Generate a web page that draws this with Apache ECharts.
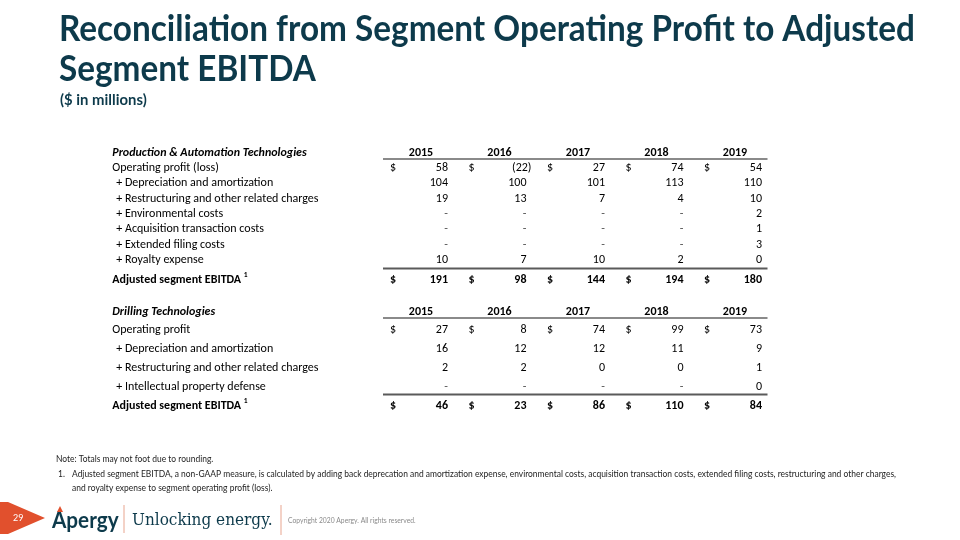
<!DOCTYPE html>
<html>
<head>
<meta charset="utf-8">
<script src="https://cdn.jsdelivr.net/npm/echarts@6/dist/echarts.min.js"></script>
<style>
  html, body { margin: 0; padding: 0; background: #ffffff; }
  #chart { width: 960px; height: 540px; }
</style>
</head>
<body>
<div id="chart"></div>
<script>
// ---------------- Data ----------------
const years = ['2015', '2016', '2017', '2018', '2019'];

const patSection = 'Production & Automation Technologies';
const patLabels = [
  'Operating profit (loss)',
  '+ Depreciation and amortization',
  '+ Restructuring and other related charges',
  '+ Environmental costs',
  '+ Acquisition transaction costs',
  '+ Extended filing costs',
  '+ Royalty expense'
];
const patOperatingProfit = [58, -22, 27, 74, 54];
const patDepreciation   = [104, 100, 101, 113, 110];
const patRestructuring  = [19, 13, 7, 4, 10];
const patEnvironmental  = [null, null, null, null, 2];
const patAcquisition    = [null, null, null, null, 1];
const patExtendedFiling = [null, null, null, null, 3];
const patRoyalty        = [10, 7, 10, 2, 0];
const patAdjustedEbitda = [191, 98, 144, 194, 180];

const dtSection = 'Drilling Technologies';
const dtLabels = [
  'Operating profit',
  '+ Depreciation and amortization',
  '+ Restructuring and other related charges',
  '+ Intellectual property defense'
];
const dtOperatingProfit = [27, 8, 74, 99, 73];
const dtDepreciation    = [16, 12, 12, 11, 9];
const dtRestructuring   = [2, 2, 0, 0, 1];
const dtIpDefense       = [null, null, null, null, 0];
const dtAdjustedEbitda  = [46, 23, 86, 110, 84];

const totalLabel = 'Adjusted segment EBITDA';
const footnoteMark = '1';

// ---------------- Build table rows ----------------
function buildTable(section, labels, valueRows, totalValues) {
  const rows = [{ kind: 'section', label: section, values: years }];
  labels.forEach((l, i) => rows.push({ kind: i === 0 ? 'first' : 'item', label: l, values: valueRows[i] }));
  rows.push({ kind: 'total', label: totalLabel, values: totalValues });
  return rows;
}
const patTable = buildTable(patSection, patLabels,
  [patOperatingProfit, patDepreciation, patRestructuring, patEnvironmental, patAcquisition, patExtendedFiling, patRoyalty],
  patAdjustedEbitda);
const dtTable = buildTable(dtSection, dtLabels,
  [dtOperatingProfit, dtDepreciation, dtRestructuring, dtIpDefense],
  dtAdjustedEbitda);

// ---------------- Styling ----------------
const TXT = '#000000';
const NAVY = '#0d3a4b';
const FONT = 'Carlito, Lato, sans-serif';
const fontSize = 12;

function fmt(v) {
  if (v === null || v === undefined) return '-';
  if (v < 0) return '(' + Math.abs(v) + ')';
  return String(v);
}

function makeRenderer(table, totalShift) {
  return function (params, api) {
    const r = params.dataIndex;
    const row = table[r];
    const shift = row.kind === 'total' ? totalShift : 0;
    const p0 = api.coord([-3.5, r]);
    const y = p0[1] + shift;
    const bold = (row.kind === 'section' || row.kind === 'total') ? 'bold ' : '';
    const ital = row.kind === 'section' ? 'italic ' : '';
    const children = [];
    const indent = row.kind === 'item' ? 8 : 4;
    if (row.kind === 'total') {
      children.push({
        type: 'text', x: p0[0] + indent, y: y,
        style: {
          text: '{a|' + row.label + ' }{s|' + footnoteMark + '}',
          rich: {
            a: { font: 'bold ' + fontSize + 'px ' + FONT, fill: TXT },
            s: { font: 'bold 7.5px ' + FONT, fill: TXT, padding: [0, 0, 9, 0] }
          },
          verticalAlign: 'middle', align: 'left'
        }
      });
    } else {
      children.push({
        type: 'text', x: p0[0] + indent, y: y,
        style: { text: row.label, font: ital + bold + fontSize + 'px ' + FONT, fill: TXT, verticalAlign: 'middle', align: 'left' }
      });
    }
    for (let i = 0; i < years.length; i++) {
      const cl = api.coord([i, r])[0];
      if (row.kind === 'section') {
        children.push({
          type: 'text', x: cl + 38, y: y,
          style: { text: row.values[i], font: 'bold ' + fontSize + 'px ' + FONT, fill: TXT, verticalAlign: 'middle', align: 'center' }
        });
        continue;
      }
      const v = row.values[i];
      if (row.kind === 'first' || row.kind === 'total') {
        children.push({
          type: 'text', x: cl + 7, y: y,
          style: { text: '$', font: bold + fontSize + 'px ' + FONT, fill: TXT, verticalAlign: 'middle', align: 'left' }
        });
      }
      const neg = v !== null && v < 0;
      children.push({
        type: 'text', x: cl + 65 + (neg ? 5 : 0), y: y,
        style: { text: fmt(v), font: bold + fontSize + 'px ' + FONT, fill: v === null ? '#555555' : TXT, verticalAlign: 'middle', align: 'right' }
      });
    }
    const xStart = api.coord([0, r])[0];
    const xEnd = api.coord([5, r])[0] - 8;
    if (row.kind === 'section') {
      children.push({ type: 'line', shape: { x1: xStart, y1: y + 6.5, x2: xEnd, y2: y + 6.5 }, style: { stroke: '#8a8a8a', lineWidth: 2 } });
    }
    if (row.kind === 'total') {
      children.push({ type: 'line', shape: { x1: xStart, y1: y - 11, x2: xEnd, y2: y - 11 }, style: { stroke: '#5a5a5a', lineWidth: 2 } });
    }
    return { type: 'group', children: children };
  };
}

const chart = echarts.init(document.getElementById('chart'), null, { renderer: 'canvas' });

const xAxisCfg = { type: 'value', min: -3.5, max: 5, show: false };
const option = {
  backgroundColor: '#ffffff',
  animation: false,
  grid: [
    { left: 108.25, right: 184.5, top: 152.5, height: 123 },
    { left: 108.25, right: 184.5, top: 311.5, height: 94 }
  ],
  xAxis: [
    Object.assign({ gridIndex: 0 }, xAxisCfg),
    Object.assign({ gridIndex: 1 }, xAxisCfg)
  ],
  yAxis: [
    { gridIndex: 0, type: 'category', inverse: true, boundaryGap: false, show: false, data: patTable.map(r => r.label) },
    { gridIndex: 1, type: 'category', inverse: true, boundaryGap: false, show: false, data: dtTable.map(r => r.label) }
  ],
  series: [
    {
      type: 'custom', xAxisIndex: 0, yAxisIndex: 0, clip: false,
      renderItem: makeRenderer(patTable, 4),
      data: patTable.map((r, i) => [0, i])
    },
    {
      type: 'custom', xAxisIndex: 1, yAxisIndex: 1, clip: false,
      renderItem: makeRenderer(dtTable, 0),
      data: dtTable.map((r, i) => [0, i])
    }
  ],
  graphic: [
    { type: 'text', x: 59, y: 29, scaleX: 0.925,
      style: { text: 'Reconciliation from Segment Operating Profit to Adjusted', font: 'bold 36px Lato', fill: NAVY, verticalAlign: 'middle' } },
    { type: 'text', x: 59, y: 69, scaleX: 0.925,
      style: { text: 'Segment EBITDA', font: 'bold 36px Lato', fill: NAVY, verticalAlign: 'middle' } },
    { type: 'text', x: 60, y: 100, scaleX: 0.93,
      style: { text: '($ in millions)', font: 'bold 16px Lato', fill: NAVY, verticalAlign: 'middle' } },
    { type: 'text', x: 56, y: 459, scaleX: 0.89,
      style: { text: 'Note: Totals may not foot due to rounding.', font: '9.5px Lato', fill: '#222222', verticalAlign: 'middle' } },
    { type: 'text', x: 58, y: 474, scaleX: 0.89,
      style: { text: '1.', font: '9.5px Lato', fill: '#222222', verticalAlign: 'middle' } },
    { type: 'text', x: 72, y: 474, scaleX: 0.89,
      style: { text: 'Adjusted segment EBITDA, a non-GAAP measure, is calculated by adding back deprecation and amortization expense, environmental costs, acquisition transaction costs, extended filing costs, restructuring and other charges,', font: '9.5px Lato', fill: '#222222', verticalAlign: 'middle' } },
    { type: 'text', x: 72, y: 488, scaleX: 0.89,
      style: { text: 'and royalty expense to segment operating profit (loss).', font: '9.5px Lato', fill: '#222222', verticalAlign: 'middle' } },
    // footer
    { type: 'polygon', shape: { points: [[0, 502], [8, 502], [45, 518], [8, 534], [0, 534]] }, style: { fill: '#e1502d' } },
    { type: 'text', x: 13, y: 518, style: { text: '29', font: '9px Lato', fill: '#ffffff', verticalAlign: 'middle' } },
    { type: 'text', x: 52, y: 521, scaleX: 0.9,
      style: { text: 'Apergy', font: 'bold 23px Lato', fill: NAVY, verticalAlign: 'middle' } },
    { type: 'polygon', shape: { points: [[57, 512], [60, 506], [63, 512]] }, style: { fill: '#e1502d' } },
    { type: 'line', shape: { x1: 124, y1: 505, x2: 124, y2: 533 }, style: { stroke: '#e8a58f', lineWidth: 1 } },
    { type: 'text', x: 132, y: 521, scaleX: 0.9,
      style: { text: 'Unlocking energy.', font: '17px "DejaVu Serif"', fill: NAVY, verticalAlign: 'middle' } },
    { type: 'line', shape: { x1: 281, y1: 505, x2: 281, y2: 535 }, style: { stroke: '#e8a58f', lineWidth: 1 } },
    { type: 'text', x: 288, y: 521, scaleX: 0.9,
      style: { text: 'Copyright 2020 Apergy. All rights reserved.', font: '7.5px Lato', fill: '#8a8a8a', verticalAlign: 'middle' } }
  ]
};
chart.setOption(option);
</script>
</body>
</html>
